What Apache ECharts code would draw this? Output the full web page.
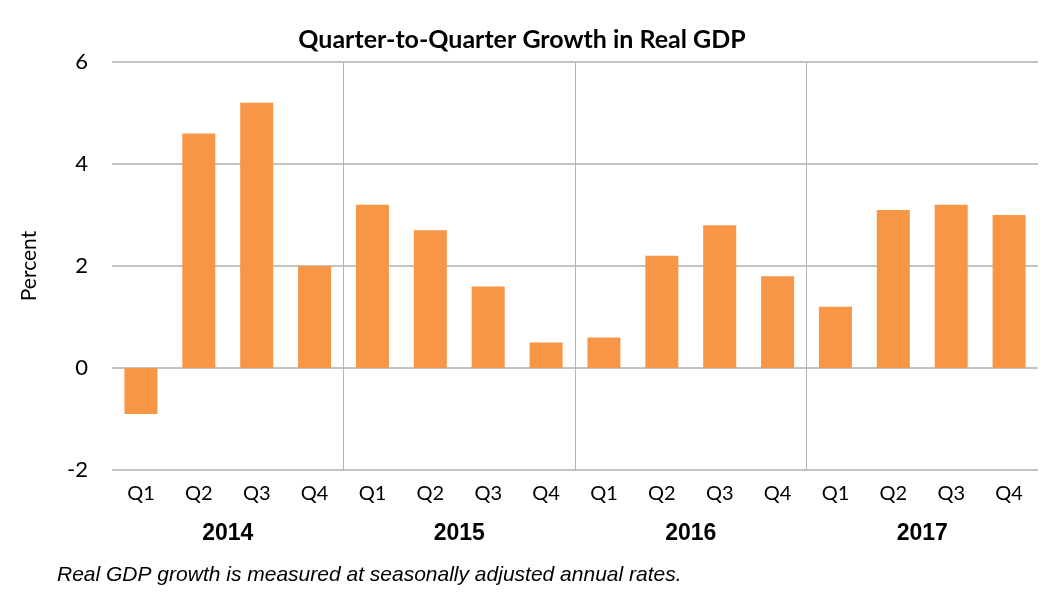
<!DOCTYPE html>
<html>
<head>
<meta charset="utf-8">
<script src="https://cdn.jsdelivr.net/npm/echarts@6/dist/echarts.min.js"></script>
<style>
html,body{margin:0;padding:0;background:#fff;}
#chart{width:1048px;height:598px;}
</style>
</head>
<body>
<div id="chart"></div>
<script>
const quarters = ['Q1','Q2','Q3','Q4','Q1','Q2','Q3','Q4','Q1','Q2','Q3','Q4','Q1','Q2','Q3','Q4'];
const years = ['2014','2015','2016','2017'];
const growth = [-0.9, 4.6, 5.2, 2.0, 3.2, 2.7, 1.6, 0.5, 0.6, 2.2, 2.8, 1.8, 1.2, 3.1, 3.2, 3.0];
const yTicks = [-2, 0, 2, 4, 6];

const chart = echarts.init(document.getElementById('chart'));
const calibriLike = 'Lato, "Open Sans", sans-serif';
chart.setOption({
  animation: false,
  backgroundColor: '#fff',
  title: {
    text: 'Quarter-to-Quarter Growth in Real GDP',
    left: 517, top: 22, textAlign: 'center',
    textStyle: {fontFamily: calibriLike, fontWeight: 'bold', fontSize: 25, color: '#000'}
  },
  graphic: [{
    type: 'text', left: 57, top: 565,
    style: {text: 'Real GDP growth is measured at seasonally adjusted annual rates.',
      font: 'italic 21px "Liberation Sans", Arial, sans-serif', fill: '#000'}
  }],
  grid: {left: 112, right: 10, top: 62, bottom: 128},
  xAxis: [{
    type: 'category', data: quarters, boundaryGap: true,
    axisLine: {show: false}, axisTick: {show: false}, splitLine: {show: false},
    axisLabel: {interval: 0, margin: 14, fontFamily: calibriLike, fontSize: 20, color: '#000'}
  }, {
    type: 'category', data: years, boundaryGap: true, position: 'bottom',
    axisLine: {show: false}, axisTick: {show: false},
    splitLine: {show: true, lineStyle: {width: 1, color: ['rgba(0,0,0,0)', '#b5b5b5', '#b5b5b5', '#b5b5b5', 'rgba(0,0,0,0)']}},
    axisLabel: {interval: 0, margin: 52, fontFamily: '"Liberation Sans", Arial, sans-serif', fontWeight: 'bold', fontSize: 23, color: '#000'}
  }],
  yAxis: {
    type: 'value', min: yTicks[0], max: yTicks[yTicks.length - 1], interval: 2,
    name: 'Percent', nameLocation: 'middle', nameGap: 72, nameRotate: 90,
    nameTextStyle: {fontFamily: calibriLike, fontSize: 21, color: '#000'},
    axisLine: {show: false}, axisTick: {show: false},
    axisLabel: {margin: 24, fontFamily: calibriLike, fontSize: 22, color: '#000'},
    splitLine: {lineStyle: {color: '#c3c3c3', width: 2}}
  },
  series: [{
    type: 'bar', data: growth, xAxisIndex: 0, barWidth: 33,
    itemStyle: {color: '#F79646'}
  }]
});
</script>
</body>
</html>
